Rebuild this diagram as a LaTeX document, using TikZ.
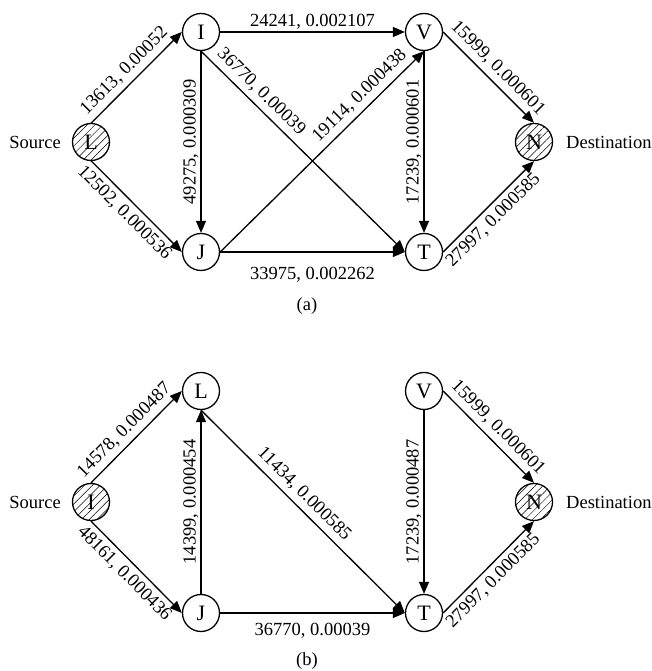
\documentclass[tikz,border=0pt]{standalone}
\usepackage{fontspec}
\setmainfont{Liberation Serif}
\usetikzlibrary{arrows.meta,patterns.meta}
\begin{document}
\begin{tikzpicture}[x=1pt,y=1pt,
  vtx/.style={circle,draw,line width=1.3pt,minimum size=37pt,inner sep=0pt,
    font=\fontsize{22}{22}\selectfont},
  hatched/.style={pattern={Lines[angle=45,distance=5.5pt,line width=0.5pt]}},
  edge/.style={line width=1.3pt,-{Triangle[length=12pt,width=10pt]}},
  lbl/.style={font=\fontsize{18.5}{18.5}\selectfont,inner sep=2pt},
  up/.style={lbl,sloped,above=3pt},
  down/.style={lbl,sloped,below=3pt},
  side/.style={font=\fontsize{18.5}{18.5}\selectfont,inner sep=1pt}]
\useasboundingbox (0,0) rectangle (652,671);

% ---- network (a) ----
\node[vtx,hatched] (La) at (91,529) {L};
\node[vtx] (Ia) at (201,639) {I};
\node[vtx] (Ja) at (201,419) {J};
\node[vtx] (Va) at (424,639) {V};
\node[vtx] (Ta) at (424,419) {T};
\node[vtx,hatched] (Na) at (534,529) {N};
\node[side,anchor=east] (srcA) at (62,529) {Source};
\node[side,anchor=west] (dstA) at (565,529) {Destination};
\node[side] (capA) at (307,365) {(a)};

\draw[edge] (La.north) -- node[up,pos=0.47]{13613, 0.00052} (Ia.west);
\draw[edge] (La.south) -- node[down,pos=0.47]{12502, 0.000536} (Ja.west);
\draw[edge] (Ia.east) -- node[lbl,above]{24241, 0.002107} (Va.west);
\draw[edge] (Ia.south) -- node[lbl,rotate=90,above]{49275, 0.000309} (Ja.north);
\draw[edge] (Ia.south) -- node[up,pos=0.25]{36770, 0.00039} (Ta.west);
\draw[edge] (Ja.east) -- node[up,pos=0.73]{19114, 0.000438} (Va.south);
\draw[edge] (Ja.east) -- node[lbl,below=13pt]{33975, 0.002262} (Ta.west);
\draw[edge] (Va.south) -- node[lbl,rotate=90,above]{17239, 0.000601} (Ta.north);
\draw[edge] (Va.east) -- node[up]{15999, 0.000601} (Na.north);
\draw[edge] (Ta.east) -- node[down,pos=0.45]{27997, 0.000585} (Na.south);

% ---- network (b) ----
\node[vtx,hatched] (Ib) at (91,169) {I};
\node[vtx] (Lb) at (201,280) {L};
\node[vtx] (Jb) at (201,58) {J};
\node[vtx] (Vb) at (424,280) {V};
\node[vtx] (Tb) at (424,58) {T};
\node[vtx,hatched] (Nb) at (534,169) {N};
\node[side,anchor=east] (srcB) at (62,169) {Source};
\node[side,anchor=west] (dstB) at (565,169) {Destination};
\node[side] (capB) at (307,10) {(b)};

\draw[edge] (Ib.north) -- node[up,pos=0.47]{14578, 0.000487} (Lb.west);
\draw[edge] (Ib.south) -- node[down,pos=0.47]{48161, 0.000436} (Jb.west);
\draw[edge] (Jb.north) -- node[lbl,rotate=90,above]{14399, 0.000454} (Lb.south);
\draw[edge] (Lb.south) -- node[up,pos=0.46]{11434, 0.000585} (Tb.west);
\draw[edge] (Jb.east) -- node[lbl,below=8pt]{36770, 0.00039} (Tb.west);
\draw[edge] (Vb.south) -- node[lbl,rotate=90,above]{17239, 0.000487} (Tb.north);
\draw[edge] (Vb.east) -- node[up]{15999, 0.000601} (Nb.north);
\draw[edge] (Tb.east) -- node[down,pos=0.45]{27997, 0.000585} (Nb.south);
\end{tikzpicture}
\end{document}
